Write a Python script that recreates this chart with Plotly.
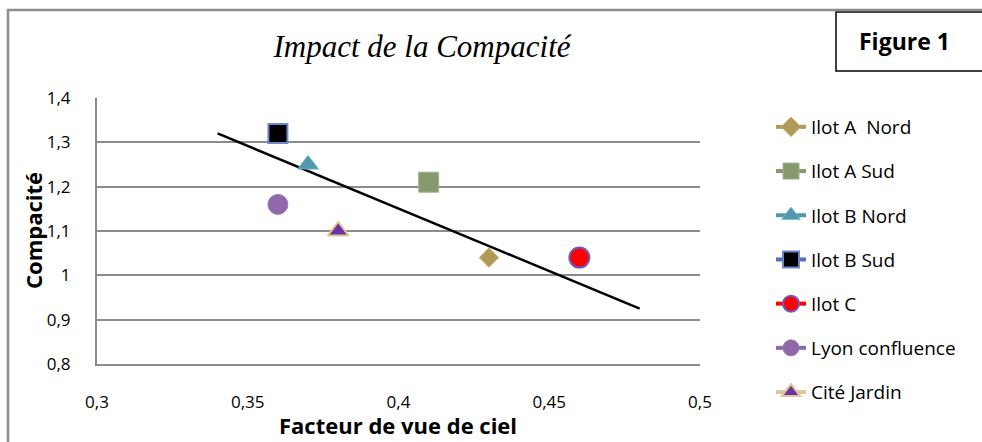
import plotly.graph_objects as go

# Data
series_names = ['Ilot A  Nord', 'Ilot A Sud', 'Ilot B Nord', 'Ilot B Sud',
                'Ilot C', 'Lyon confluence', 'Cité Jardin']
facteur_vue_ciel = [0.43, 0.41, 0.37, 0.36, 0.46, 0.36, 0.38]
compacite = [1.04, 1.21, 1.25, 1.32, 1.04, 1.16, 1.10]

# Trend line drawn on the original chart
trend_x = [0.34, 0.48]
trend_y = [1.32, 0.925]

x_ticks = [0.3, 0.35, 0.4, 0.45, 0.5]
y_ticks = [0.8, 0.9, 1.0, 1.1, 1.2, 1.3, 1.4]

# Style per series: line colour, marker symbol, size, fill, border
styles = [
    dict(line='#B09A56', symbol='diamond', size=15, fill='#B09A56', border='#C4B077', bw=1),
    dict(line='#879A6E', symbol='square', size=20, fill='#879A6E', border='#A3B38C', bw=1),
    dict(line='#4F98AE', symbol='triangle-up', size=18, fill='#4F98AE', border='#6FAFC2', bw=1),
    dict(line='#4F6FB6', symbol='square', size=19, fill='#000000', border='#6A88CC', bw=2),
    dict(line='#FF0000', symbol='circle', size=20, fill='#FF0000', border='#6A5BB8', bw=2),
    dict(line='#8E68A8', symbol='circle', size=20, fill='#8E68A8', border='#9C7CB3', bw=1),
    dict(line='#D7C99A', symbol='triangle-up', size=18, fill='#7030A0', border='#D7C99A', bw=2),
]

# Plot area in pixels (for converting decorations to paper coordinates)
W, H = 982, 442
PL, PR, PT, PB = 97, 700, 98, 364


def px_x(x):
    return (x - PL) / (PR - PL)


def px_y(y):
    return (PB - y) / (PB - PT)


fig = go.Figure()

fig.add_trace(go.Scatter(
    x=trend_x, y=trend_y, mode='lines',
    line=dict(color='black', width=2.5),
    showlegend=False, hoverinfo='skip'
))

for i, (name, st) in enumerate(zip(series_names, styles)):
    fig.add_trace(go.Scatter(
        x=[facteur_vue_ciel[i]], y=[compacite[i]],
        mode='lines+markers', name=name, legendgroup=name,
        line=dict(color=st['line'], width=4),
        marker=dict(symbol=st['symbol'], size=st['size'], color=st['fill'],
                    line=dict(color=st['border'], width=st['bw']))
    ))

grid = '#8C8C8C'
fig.update_layout(
    width=W, height=H,
    margin=dict(l=PL, r=W - PR, t=PT, b=H - PB, autoexpand=False),
    paper_bgcolor='white', plot_bgcolor='white',
    separators=', ',
    font=dict(family='Open Sans', color='black', size=17),
    title=dict(text='Impact de la Compacité', xref='container', yref='container',
               x=422 / W, y=1 - 46 / H, xanchor='center', yanchor='middle',
               font=dict(family='Liberation Serif', size=31, style='italic', color='black')),
    xaxis=dict(range=[0.3, 0.5], tickvals=x_ticks, showgrid=False, zeroline=False,
               showline=True, linecolor=grid, linewidth=2, automargin=False,
               ticks='outside', ticklen=22, tickcolor='rgba(0,0,0,0)'),
    yaxis=dict(range=[0.8, 1.4], tickvals=y_ticks, showgrid=True, gridcolor=grid,
               gridwidth=2, zeroline=False, showline=True, linecolor=grid,
               linewidth=2, automargin=False,
               ticks='outside', ticklen=21, tickcolor='rgba(0,0,0,0)'),
    legend=dict(x=px_x(771), y=px_y(108), xanchor='left', yanchor='top',
                font=dict(size=19), tracegroupgap=16.5, maxheight=420,
                bgcolor='rgba(0,0,0,0)'),
    showlegend=True,
)

# Axis titles
fig.add_annotation(text='<b>Facteur de vue de ciel</b>', xref='paper', yref='paper',
                   x=px_x(398), y=px_y(425), xanchor='center', yanchor='middle',
                   showarrow=False, font=dict(size=22))
fig.add_annotation(text='<b>Compacité</b>', xref='paper', yref='paper',
                   x=px_x(33), y=px_y(231), xanchor='center', yanchor='middle',
                   textangle=-90, showarrow=False, font=dict(size=22))

# "Figure 1" box
fig.add_shape(type='rect', xref='paper', yref='paper',
              x0=px_x(836), x1=px_x(995), y0=px_y(71), y1=px_y(12),
              line=dict(color='black', width=1.5), layer='above')
fig.add_annotation(text='<b>Figure 1</b>', xref='paper', yref='paper',
                   x=px_x(904), y=px_y(41), xanchor='center', yanchor='middle',
                   showarrow=False, font=dict(family='Open Sans', size=23, color='black'))

# Outer chart border (left and top edges visible)
fig.add_shape(type='path', xref='paper', yref='paper',
              path=f'M {px_x(8)},{px_y(450)} L {px_x(8)},{px_y(10)} L {px_x(990)},{px_y(10)}',
              line=dict(color='#8C8C8C', width=2.5), layer='above')

fig.write_html('out.html', config={'displayModeBar': False},
               post_script="document.body.style.margin='0';")
